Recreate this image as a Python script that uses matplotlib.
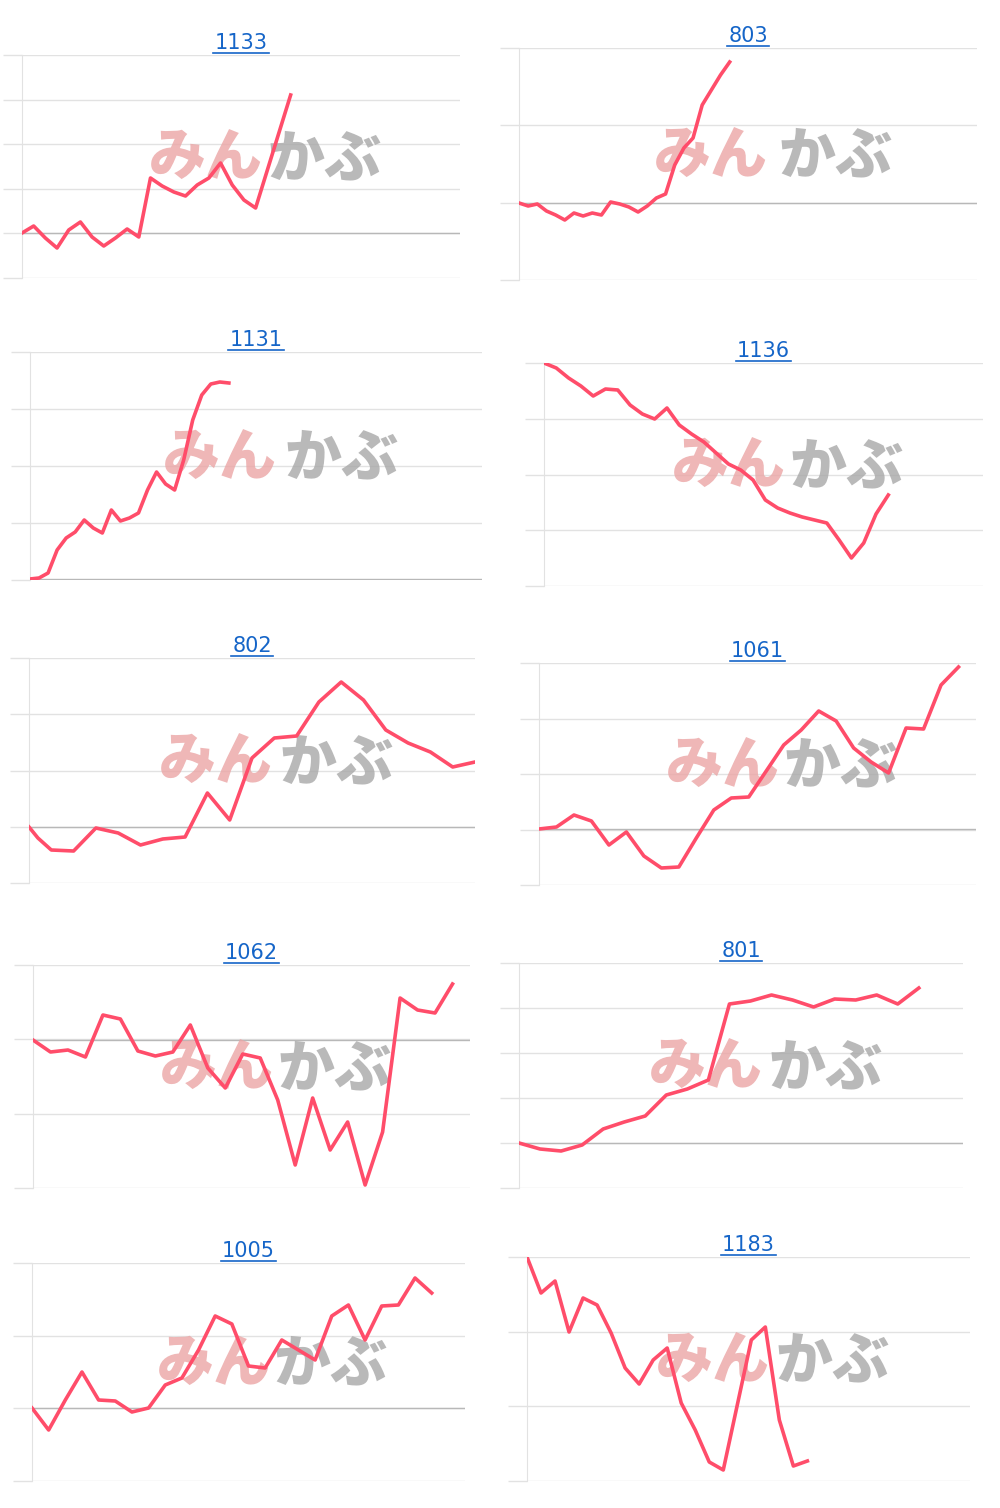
import matplotlib.pyplot as plt
import numpy as np

titles = ["1133", "803", "1131", "1136", "802", "1061", "1062", "801", "1005", "1183"]

days = [
    [0, 1, 2, 3, 4, 5, 6, 7, 8, 9, 10, 11, 12, 13, 14, 15, 16, 17, 18, 19, 20, 23],
    list(range(24)),
    list(range(23)),
    list(range(29)),
    [0, 0.4, 1, 2, 3, 4, 5, 6, 7, 8, 9, 10, 11, 12, 13, 14, 15, 16, 17, 18, 19, 20],
    list(range(25)),
    list(range(25)),
    list(range(20)),
    list(range(25)),
    list(range(21)),
]

prices = [
    [45, 52, 40, 30, 48, 56, 41, 32, 40, 49, 41, 100, 92, 86, 82, 93, 100, 115, 93, 78, 70, 183],
    [77, 74, 76, 69, 65, 60, 67, 64, 67, 65, 78, 76, 73, 68, 74, 82, 86, 115, 132, 142, 175, 190, 205, 218],
    [1, 2, 7, 30, 42, 48, 60, 52, 47, 70, 59, 62, 67, 90, 108, 96, 90, 120, 160, 185, 196, 198, 197],
    [223, 218, 208, 200, 190, 197, 196, 181, 172, 167, 178, 161, 152, 144, 133, 122, 116, 106, 86, 78,
     73, 69, 66, 63, 46, 28, 43, 72, 91],
    [56, 45, 33, 32, 55, 50, 38, 44, 46, 90, 63, 125, 145, 147, 181, 201, 183, 153, 140, 131, 116, 121],
    [56, 58, 70, 64, 40, 53, 29, 17, 18, 47, 75, 87, 88, 114, 140, 155, 174, 164, 137, 123, 112, 157,
     156, 200, 218],
    [148, 136, 138, 131, 173, 169, 137, 132, 136, 163, 120, 100, 134, 130, 88, 23, 90, 38, 66, 3, 56,
     190, 178, 175, 204],
    [45, 39, 37, 43, 59, 66, 72, 93, 99, 108, 184, 187, 193, 188, 181, 189, 188, 193, 184, 200],
    [73, 51, 81, 109, 81, 80, 69, 73, 96, 103, 131, 165, 157, 115, 113, 141, 131, 121, 165, 176, 141,
     175, 176, 203, 188],
    [224, 188, 200, 149, 183, 176, 148, 113, 97, 121, 133, 78, 51, 19, 11, 76, 141, 154, 61, 15, 20],
]

x_max = [37.5, 50, 50, 35.7, 20, 25, 25, 21.1, 26, 31.6]
y_max = [223, 232, 228, 223, 225, 222, 223, 225, 218, 224]
n_grid = [5, 3, 4, 4, 4, 4, 3, 5, 3, 3]

# panel frames in pixels: left, top, right, bottom
frames = [
    (22, 55, 460, 278), (519, 48, 977, 280),
    (30, 352, 482, 580), (544, 363, 983, 586),
    (29, 658, 475, 883), (539, 663, 976, 885),
    (33, 965, 470, 1188), (519, 963, 963, 1188),
    (32, 1263, 465, 1481), (527, 1257, 970, 1481),
]

W, H = 1000, 1508
fig = plt.figure(figsize=(W / 100, H / 100), dpi=100)
grid_c = "#e2e2e2"
link_c = "#1565c8"
wm_font = ["Noto Sans CJK JP", "DejaVu Sans"]

for i, (l, t, r, b) in enumerate(frames):
    ax = fig.add_axes([l / W, 1 - b / H, (r - l) / W, (b - t) / H])
    ax.set_xlim(0, x_max[i])
    ax.set_ylim(0, y_max[i])
    for s in ["top", "right", "bottom"]:
        ax.spines[s].set_visible(False)
    ax.spines["left"].set_color(grid_c)
    ticks = np.linspace(0, y_max[i], n_grid[i] + 1)
    ax.set_yticks(ticks)
    ax.set_yticklabels([])
    ax.set_xticks([])
    ax.tick_params(axis="y", length=14, color=grid_c, width=1)
    for tv in ticks:
        ax.axhline(tv, color=grid_c, lw=1, zorder=0)
    if 0 < prices[i][0] < y_max[i]:
        ax.axhline(prices[i][0], color="#b8b8b8", lw=1, zorder=0)

    # watermark
    ax.text(0.42, 0.53, "みん", transform=ax.transAxes, fontsize=41, fontweight="black",
            family=wm_font, color="#eba5a5", alpha=0.8, ha="center", va="center", zorder=1)
    ax.text(0.69, 0.53, "かぶ", transform=ax.transAxes, fontsize=41, fontweight="black",
            family=wm_font, color="#a8a8a8", alpha=0.8, ha="center", va="center", zorder=1)

    ax.plot(days[i], prices[i], color="#ff4d6a", lw=2.6, zorder=3)

    # linked title with underline
    cx = (l + r) / 2
    fig.text(cx / W, 1 - (t - 12) / H, titles[i], fontsize=15, color=link_c,
             ha="center", va="center")
    half = 6.9 * len(titles[i])
    uy = 1 - (t - 2) / H
    fig.lines.append(plt.Line2D([(cx - half) / W, (cx + half) / W], [uy, uy],
                                transform=fig.transFigure, color=link_c, lw=1.2))

fig.savefig("out.png", dpi=100)
